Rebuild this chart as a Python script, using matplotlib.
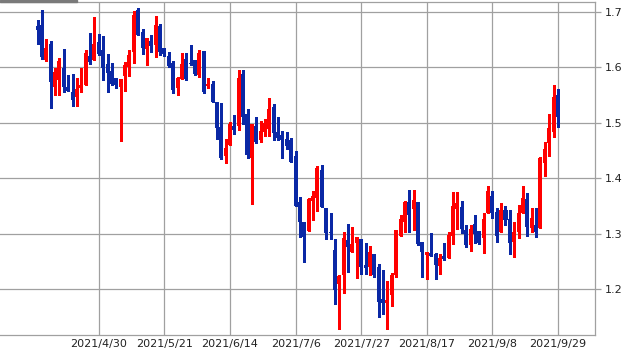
import matplotlib
matplotlib.use("Agg")
import matplotlib.pyplot as plt
from matplotlib.patches import Rectangle
import pandas as pd
import numpy as np

# ---- data ----
holidays = ["2021-05-31", "2021-07-05", "2021-09-06"]
dates = [d for d in pd.bdate_range("2021-04-12", "2021-09-29") if d.strftime("%Y-%m-%d") not in holidays]

opens = [1.674, 1.675, 1.613, 1.641, 1.565, 1.577, 1.598, 1.564, 1.555, 1.547,
         1.563, 1.568, 1.620, 1.613, 1.645, 1.631, 1.605, 1.593, 1.580, 1.565,
         1.584, 1.600, 1.628, 1.702, 1.663, 1.633, 1.647, 1.640, 1.674, 1.635,
         1.620, 1.607, 1.563, 1.579, 1.614, 1.608, 1.613, 1.585, 1.629, 1.566,
         1.569, 1.537, 1.492, 1.440, 1.460, 1.494, 1.494, 1.587, 1.515, 1.437,
         1.494, 1.469, 1.484, 1.488, 1.528, 1.483, 1.478, 1.470, 1.469, 1.440,
         1.357, 1.321, 1.305, 1.359, 1.365, 1.415, 1.346, 1.303, 1.271, 1.209,
         1.226, 1.289, 1.268, 1.283, 1.290, 1.244, 1.240, 1.264, 1.240, 1.182,
         1.176, 1.190, 1.226, 1.296, 1.322, 1.357, 1.344, 1.358, 1.285, 1.262,
         1.265, 1.264, 1.242, 1.260, 1.257, 1.296, 1.344, 1.349, 1.307, 1.280,
         1.317, 1.305, 1.292, 1.337, 1.368, 1.339, 1.304, 1.343, 1.326, 1.286,
         1.304, 1.338, 1.362, 1.311, 1.316, 1.310, 1.428, 1.464, 1.484, 1.550]
highs = [1.684, 1.702, 1.650, 1.647, 1.598, 1.616, 1.632, 1.586, 1.587, 1.581,
         1.598, 1.631, 1.661, 1.690, 1.659, 1.656, 1.623, 1.607, 1.581, 1.579,
         1.609, 1.631, 1.701, 1.706, 1.669, 1.652, 1.658, 1.692, 1.678, 1.635,
         1.628, 1.611, 1.583, 1.625, 1.626, 1.639, 1.613, 1.631, 1.629, 1.581,
         1.575, 1.537, 1.535, 1.470, 1.501, 1.513, 1.595, 1.595, 1.525, 1.497,
         1.511, 1.503, 1.506, 1.545, 1.533, 1.511, 1.485, 1.484, 1.472, 1.449,
         1.367, 1.321, 1.365, 1.377, 1.422, 1.424, 1.346, 1.338, 1.291, 1.226,
         1.303, 1.317, 1.313, 1.295, 1.290, 1.283, 1.278, 1.264, 1.246, 1.235,
         1.215, 1.229, 1.307, 1.334, 1.359, 1.379, 1.379, 1.358, 1.285, 1.267,
         1.301, 1.266, 1.264, 1.283, 1.303, 1.375, 1.375, 1.359, 1.316, 1.316,
         1.334, 1.305, 1.337, 1.386, 1.377, 1.346, 1.355, 1.350, 1.343, 1.322,
         1.352, 1.386, 1.374, 1.346, 1.346, 1.439, 1.466, 1.515, 1.567, 1.560]
lows = [1.642, 1.614, 1.611, 1.527, 1.550, 1.550, 1.555, 1.557, 1.530, 1.530,
        1.556, 1.568, 1.606, 1.613, 1.621, 1.577, 1.555, 1.568, 1.563, 1.467,
        1.557, 1.584, 1.608, 1.658, 1.623, 1.604, 1.627, 1.619, 1.622, 1.620,
        1.601, 1.554, 1.550, 1.578, 1.577, 1.604, 1.585, 1.583, 1.554, 1.563,
        1.538, 1.471, 1.434, 1.428, 1.460, 1.479, 1.486, 1.497, 1.437, 1.354,
        1.463, 1.466, 1.476, 1.476, 1.469, 1.469, 1.436, 1.452, 1.430, 1.350,
        1.295, 1.250, 1.305, 1.325, 1.341, 1.348, 1.291, 1.291, 1.174, 1.128,
        1.194, 1.232, 1.268, 1.221, 1.228, 1.228, 1.226, 1.222, 1.151, 1.155,
        1.128, 1.170, 1.223, 1.296, 1.304, 1.303, 1.307, 1.280, 1.223, 1.218,
        1.260, 1.219, 1.227, 1.253, 1.257, 1.282, 1.309, 1.301, 1.277, 1.269,
        1.283, 1.282, 1.266, 1.337, 1.328, 1.286, 1.304, 1.316, 1.263, 1.259,
        1.293, 1.338, 1.296, 1.304, 1.295, 1.310, 1.404, 1.440, 1.475, 1.492]
closes = [1.666, 1.619, 1.635, 1.574, 1.591, 1.611, 1.565, 1.557, 1.541, 1.561,
          1.568, 1.626, 1.609, 1.642, 1.623, 1.599, 1.590, 1.569, 1.568, 1.579,
          1.604, 1.622, 1.693, 1.658, 1.635, 1.652, 1.638, 1.675, 1.628, 1.623,
          1.602, 1.559, 1.580, 1.605, 1.579, 1.605, 1.587, 1.625, 1.556, 1.569,
          1.538, 1.491, 1.437, 1.454, 1.497, 1.487, 1.581, 1.511, 1.442, 1.497,
          1.466, 1.485, 1.500, 1.525, 1.481, 1.473, 1.469, 1.458, 1.430, 1.350,
          1.322, 1.295, 1.362, 1.368, 1.419, 1.349, 1.301, 1.301, 1.198, 1.224,
          1.292, 1.277, 1.282, 1.295, 1.240, 1.238, 1.267, 1.225, 1.178, 1.175,
          1.181, 1.226, 1.307, 1.326, 1.357, 1.334, 1.361, 1.282, 1.268, 1.267,
          1.260, 1.243, 1.256, 1.254, 1.298, 1.350, 1.356, 1.308, 1.280, 1.308,
          1.299, 1.284, 1.326, 1.377, 1.337, 1.296, 1.343, 1.325, 1.283, 1.304,
          1.337, 1.364, 1.312, 1.328, 1.304, 1.436, 1.452, 1.491, 1.546, 1.510]

tick_labels = ["2021/4/30", "2021/5/21", "2021/6/14", "2021/7/6",
               "2021/7/27", "2021/8/17", "2021/9/8", "2021/9/29"]
y_ticks = [1.2, 1.3, 1.4, 1.5, 1.6, 1.7]

# ---- style ----
UP = "#ff0000"
DOWN = "#0a28a5"
GRID = "#a0a0a0"

W, H = 641, 355
fig = plt.figure(figsize=(W / 100, H / 100), dpi=100)
ax = fig.add_axes([0, 1 - 335 / H, 594.7 / W, (335 - 1.5) / H])

x = np.arange(len(dates))
o = np.array(opens); c = np.array(closes); hi = np.array(highs); lo = np.array(lows)
colors = [UP if cc >= oo else DOWN for oo, cc in zip(o, c)]
bottoms = np.minimum(o, c)
heights = np.maximum(np.abs(c - o), 0.002)

ax.vlines(x, lo, hi, colors=colors, linewidth=0.75, antialiased=False, zorder=3)
ax.bar(x, heights, bottom=bottoms, width=0.92, color=colors, linewidth=0,
       antialiased=False, zorder=4)

ax.set_xlim(-8.6, len(dates) - 1 + 8.4)
ax.set_ylim(1.1178, 1.718)

labels_str = [f"{d.year}/{d.month}/{d.day}" for d in dates]
xt = [labels_str.index(t) for t in tick_labels]
ax.set_xticks(xt)
ax.set_xticklabels(tick_labels)
ax.set_yticks(y_ticks)
ax.set_yticklabels([f"{v:g}" for v in y_ticks])

ax.yaxis.tick_right()
ax.tick_params(axis="y", length=4.5, width=0.9, color=GRID, labelsize=8,
               labelcolor="#222222", pad=3)
ax.tick_params(axis="x", length=0, labelsize=8, labelcolor="#222222", pad=3)

ax.grid(True, color=GRID, linewidth=0.9)
ax.set_axisbelow(True)
for side in ["top", "right", "bottom"]:
    ax.spines[side].set_color(GRID)
    ax.spines[side].set_linewidth(0.9)
ax.spines["left"].set_visible(False)

fig.patches.append(Rectangle((0, 1 - 1.5 / H), 77 / W, 1.5 / H,
                             transform=fig.transFigure, color="#7a7a7a", zorder=10))

fig.savefig("out.png", dpi=100)
